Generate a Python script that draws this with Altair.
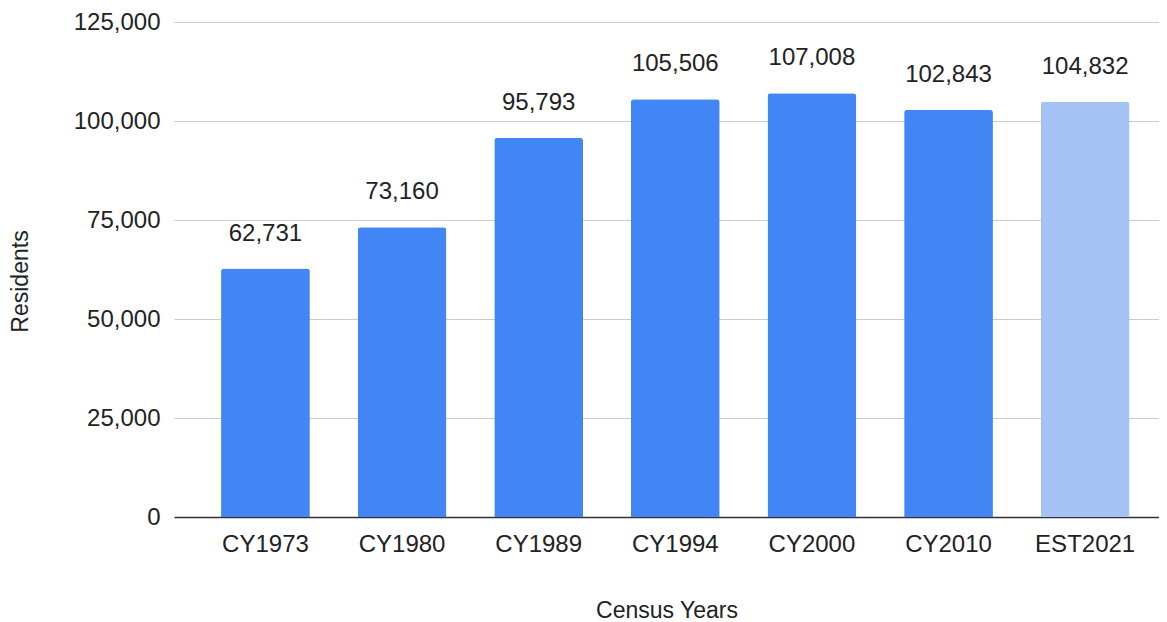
import altair as alt
import pandas as pd

years = ["CY1973", "CY1980", "CY1989", "CY1994", "CY2000", "CY2010", "EST2021"]
residents = [62731, 73160, 95793, 105506, 107008, 102843, 104832]
kinds = ["census", "census", "census", "census", "census", "census", "estimate"]
y_ticks = [0, 25000, 50000, 75000, 100000, 125000]

df = pd.DataFrame({"year": years, "residents": residents, "kind": kinds})

FONT = "Liberation Sans"

x_enc = alt.X(
    "year:N",
    sort=years,
    scale=alt.Scale(paddingInner=0.35, paddingOuter=0.28, align=0.615),
    axis=alt.Axis(
        title="Census Years",
        labelAngle=0,
        labelFontSize=24,
        labelFont=FONT,
        labelColor="#222222",
        labelPadding=15,
        ticks=False,
        grid=False,
        domain=True,
        domainColor="#333333",
        domainWidth=1.5,
        titleFontSize=23,
        titleFont=FONT,
        titleFontWeight="normal",
        titleColor="#222222",
        titleY=93,
        titleBaseline="middle",
    ),
)

y_enc = alt.Y(
    "residents:Q",
    scale=alt.Scale(domain=[0, 125000], nice=False),
    axis=alt.Axis(
        title="Residents",
        values=y_ticks,
        format=",d",
        labelFontSize=24,
        labelFont=FONT,
        labelColor="#222222",
        labelPadding=14,
        ticks=False,
        domain=False,
        grid=True,
        gridColor="#cccccc",
        gridWidth=1.2,
        titleFontSize=23,
        titleFont=FONT,
        titleFontWeight="normal",
        titleColor="#222222",
        titleX=-154,
        titleY=259,
        titleAngle=-90,
        titleAlign="center",
        titleBaseline="middle",
    ),
)

bars = alt.Chart(df).mark_bar(cornerRadiusTopLeft=3, cornerRadiusTopRight=3).encode(
    x=x_enc,
    y=y_enc,
    color=alt.Color(
        "kind:N",
        scale=alt.Scale(domain=["census", "estimate"], range=["#4285F4", "#A4C2F4"]),
        legend=None,
    ),
)

labels = alt.Chart(df).mark_text(
    baseline="alphabetic", dy=-28, fontSize=24, font=FONT, color="#222222"
).encode(
    x=alt.X("year:N", sort=years),
    y=alt.Y("residents:Q"),
    text=alt.Text("residents:Q", format=",d"),
)

chart = (
    alt.layer(bars, labels)
    .properties(
        width=985,
        height=495,
        background="white",
        autosize=alt.AutoSizeParams(type="none"),
        padding={"left": 166, "top": 14, "right": 0, "bottom": 104},
    )
    .configure_view(stroke=None, strokeWidth=0)
)

chart.save("out.html", embed_options={"renderer": "svg", "actions": False})
